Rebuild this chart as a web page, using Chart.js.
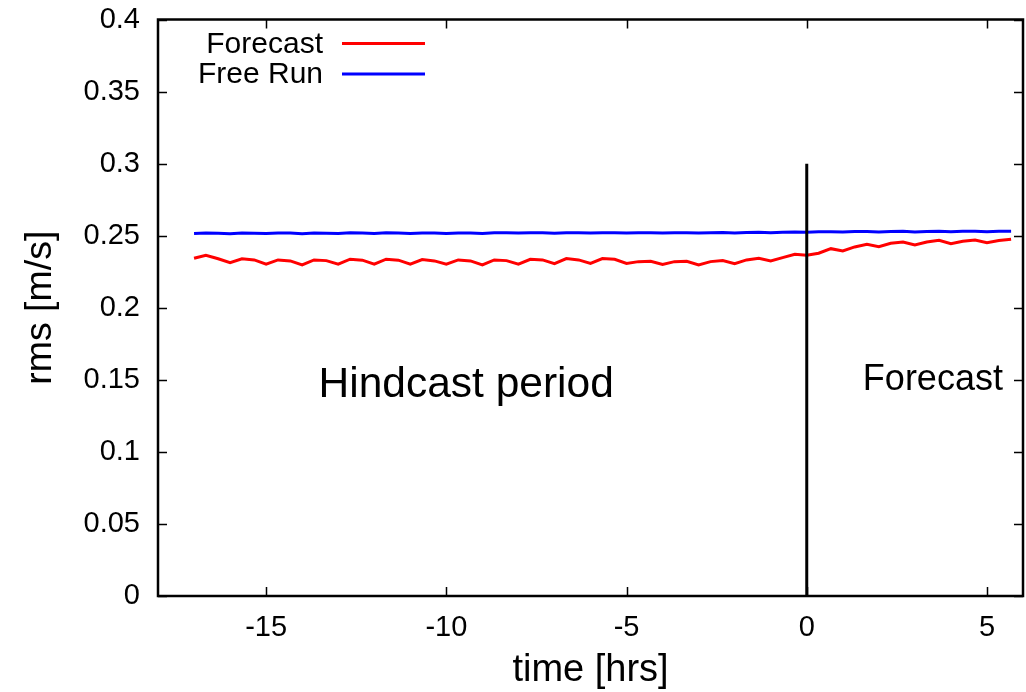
<!DOCTYPE html>
<html>
<head>
<meta charset="utf-8">
<script src="https://cdn.jsdelivr.net/npm/chart.js@4"></script>
<style>
	html, body {margin: 0; padding: 0; background: #fff;}
	#wrap {width: 1026px; height: 692px;}
</style>
</head>
<body>
<div id="wrap"><canvas id="chart"></canvas></div>
<script>
const FONT = '"Liberation Sans", Arial, sans-serif';

// time axis [hrs], one point every 20 minutes
const HOURS = [
	-17, -16.67, -16.33, -16, -15.67, -15.33, -15, -14.67, -14.33, -14,
	-13.67, -13.33, -13, -12.67, -12.33, -12, -11.67, -11.33, -11, -10.67,
	-10.33, -10, -9.67, -9.33, -9, -8.67, -8.33, -8, -7.67, -7.33,
	-7, -6.67, -6.33, -6, -5.67, -5.33, -5, -4.67, -4.33, -4,
	-3.67, -3.33, -3, -2.67, -2.33, -2, -1.67, -1.33, -1, -0.67,
	-0.33, 0, 0.33, 0.67, 1, 1.33, 1.67, 2, 2.33, 2.67,
	3, 3.33, 3.67, 4, 4.33, 4.67, 5, 5.33, 5.67
];

const FORECAST = [
	0.2343, 0.2364, 0.2340, 0.2313, 0.2340, 0.2332, 0.2302, 0.2332, 0.2325, 0.2297,
	0.2332, 0.2327, 0.2302, 0.2337, 0.2330, 0.2302, 0.2337, 0.2330, 0.2302, 0.2334,
	0.2325, 0.2302, 0.2332, 0.2325, 0.2297, 0.2332, 0.2327, 0.2302, 0.2336, 0.2332,
	0.2306, 0.2341, 0.2332, 0.2308, 0.2341, 0.2336, 0.2308, 0.2320, 0.2322, 0.2300,
	0.2320, 0.2322, 0.2297, 0.2320, 0.2327, 0.2306, 0.2332, 0.2343, 0.2325, 0.2348,
	0.2371, 0.2364, 0.2378, 0.2410, 0.2394, 0.2422, 0.2440, 0.2424, 0.2447, 0.2456,
	0.2436, 0.2456, 0.2468, 0.2445, 0.2461, 0.2470, 0.2452, 0.2466, 0.2475
];

const FREE_RUN = [
	0.2515, 0.2518, 0.2517, 0.2514, 0.2518, 0.2517, 0.2515, 0.2519, 0.2518, 0.2514,
	0.2518, 0.2517, 0.2515, 0.2520, 0.2519, 0.2516, 0.2520, 0.2519, 0.2516, 0.2519,
	0.2518, 0.2516, 0.2519, 0.2518, 0.2516, 0.2521, 0.2520, 0.2518, 0.2521, 0.2520,
	0.2517, 0.2521, 0.2520, 0.2518, 0.2521, 0.2520, 0.2518, 0.2520, 0.2520, 0.2518,
	0.2521, 0.2520, 0.2518, 0.2521, 0.2522, 0.2519, 0.2522, 0.2523, 0.2521, 0.2524,
	0.2526, 0.2524, 0.2527, 0.2528, 0.2526, 0.2529, 0.2529, 0.2526, 0.2529, 0.2530,
	0.2526, 0.2529, 0.2530, 0.2527, 0.2530, 0.2530, 0.2527, 0.2530, 0.2530
];

// vertical marker at analysis time
const MARKER_X = [0, 0];
const MARKER_Y = [0, 0.3];

const X_TICKS = [-15, -10, -5, 0, 5];
const Y_TICKS = [0, 0.05, 0.1, 0.15, 0.2, 0.25, 0.3, 0.35, 0.4];

const LEGEND = [
	{label: 'Forecast', color: '#ff0000'},
	{label: 'Free Run', color: '#0000ff'}
];

const NOTES = [
	{text: 'Hindcast period', x: -9.45, y: 0.1465, size: 42.5},
	{text: 'Forecast', x: 3.5, y: 0.1495, size: 36}
];

const toPoints = (xs, ys) => xs.map((x, i) => ({x, y: ys[i]}));

// gnuplot-ish frame with inward ticks on all four sides, legend and notes
const framePlugin = {
	id: 'frame',
	afterDatasetsDraw(chart) {
		const {ctx, chartArea: a, scales: {x, y}} = chart;
		ctx.save();
		ctx.strokeStyle = '#000';
		ctx.lineWidth = 1.5;
		ctx.beginPath();
		X_TICKS.forEach(v => {
			const px = Math.round(x.getPixelForValue(v)) + 0.5;
			ctx.moveTo(px, a.bottom); ctx.lineTo(px, a.bottom - 9);
			ctx.moveTo(px, a.top); ctx.lineTo(px, a.top + 9);
		});
		Y_TICKS.forEach(v => {
			const py = Math.round(y.getPixelForValue(v)) + 0.5;
			ctx.moveTo(a.left, py); ctx.lineTo(a.left + 9, py);
			ctx.moveTo(a.right, py); ctx.lineTo(a.right - 9, py);
		});
		ctx.stroke();
		ctx.lineWidth = 2.5;
		ctx.strokeRect(a.left, a.top, a.right - a.left, a.bottom - a.top);

		// legend: text right aligned, sample line after it
		ctx.font = `30px ${FONT}`;
		ctx.textAlign = 'right';
		ctx.textBaseline = 'middle';
		LEGEND.forEach((item, i) => {
			const ly = 44.5 + i * 30.5;
			ctx.fillStyle = '#000';
			ctx.fillText(item.label, 323, ly);
			ctx.strokeStyle = item.color;
			ctx.lineWidth = 3;
			ctx.beginPath();
			ctx.moveTo(342, ly - 1);
			ctx.lineTo(425, ly - 1);
			ctx.stroke();
		});

		ctx.fillStyle = '#000';
		ctx.textAlign = 'center';
		NOTES.forEach(n => {
			ctx.font = `${n.size}px ${FONT}`;
			ctx.fillText(n.text, x.getPixelForValue(n.x), y.getPixelForValue(n.y));
		});
		ctx.restore();
	}
};

new Chart(document.getElementById('chart'), {
	type: 'scatter',
	data: {
		datasets: [
			{
				label: 'marker',
				data: toPoints(MARKER_X, MARKER_Y),
				showLine: true,
				borderColor: '#000',
				borderWidth: 3,
				pointRadius: 0,
				order: 0
			},
			{
				label: 'Forecast',
				data: toPoints(HOURS, FORECAST),
				showLine: true,
				borderColor: '#ff0000',
				borderWidth: 3,
				pointRadius: 0,
				order: 1
			},
			{
				label: 'Free Run',
				data: toPoints(HOURS, FREE_RUN),
				showLine: true,
				borderColor: '#0000ff',
				borderWidth: 3,
				pointRadius: 0,
				order: 2
			}
		]
	},
	options: {
		responsive: true,
		maintainAspectRatio: false,
		animation: false,
		layout: {padding: {top: 19.5, right: 3, left: 0, bottom: 0}},
		plugins: {
			legend: {display: false},
			tooltip: {enabled: false}
		},
		scales: {
			x: {
				type: 'linear',
				min: -18,
				max: 6,
				afterBuildTicks: s => { s.ticks = X_TICKS.map(v => ({value: v})); },
				afterFit: s => {
					s.height = 96;
					s.paddingLeft = 0;
					s.paddingRight = 0;
				},
				grid: {display: false, drawTicks: false},
				border: {display: false},
				ticks: {
					padding: 15,
					color: '#000',
					font: {family: FONT, size: 29},
					maxRotation: 0,
					callback: v => String(v)
				},
				title: {
					display: true,
					text: 'time [hrs]',
					color: '#000',
					font: {family: FONT, size: 38, lineHeight: 1},
					padding: {top: 0, bottom: 2}
				}
			},
			y: {
				min: 0,
				max: 0.4,
				afterBuildTicks: s => { s.ticks = Y_TICKS.map(v => ({value: v})); },
				afterFit: s => {
					s.width = 158;
					s.paddingTop = 0;
					s.paddingBottom = 0;
				},
				grid: {display: false, drawTicks: false},
				border: {display: false},
				ticks: {
					padding: 18,
					color: '#000',
					font: {family: FONT, size: 29},
					callback: v => String(+v.toFixed(2))
				},
				title: {
					display: true,
					text: 'rms [m/s]',
					color: '#000',
					font: {family: FONT, size: 37.5},
					padding: {top: 18, bottom: 0}
				}
			}
		}
	},
	plugins: [framePlugin]
});
</script>
</body>
</html>
